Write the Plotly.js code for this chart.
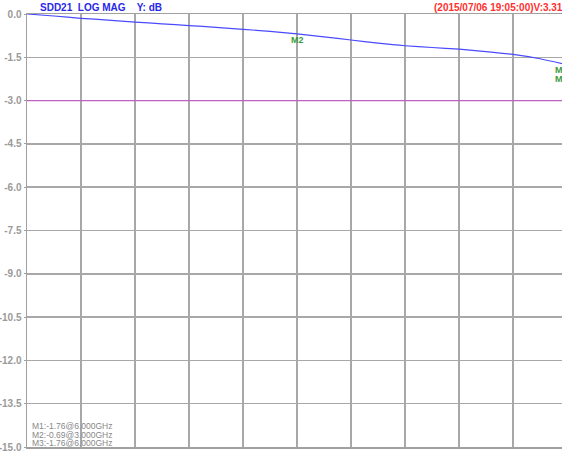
<!DOCTYPE html>
<html>
<head>
<meta charset="utf-8">
<script src="https://cdn.plot.ly/plotly-3.0.1.min.js"></script>
<style>
html,body{margin:0;padding:0;overflow:hidden;background:#fff;}
#chart{width:600px;height:455px;}
</style>
</head>
<body>
<div id="chart"></div>
<script>
// Frequency (GHz) and SDD21 (dB)
const freqGHz = [0, 0.3, 0.6, 0.9, 1.2, 1.5, 1.8, 2.1, 2.4, 2.7, 3.0, 3.3, 3.6, 3.9, 4.2, 4.5, 4.8, 5.1, 5.4, 5.7, 6.0];
const sdd21dB = [0, -0.07, -0.15, -0.21, -0.28, -0.34, -0.40, -0.46, -0.53, -0.60, -0.69, -0.79, -0.90, -1.01, -1.10, -1.16, -1.22, -1.30, -1.40, -1.55, -1.76];
const limitDB = -3.0;
const yTicks = [0, -1.5, -3.0, -4.5, -6.0, -7.5, -9.0, -10.5, -12.0, -13.5, -15.0];
const markerNames = ['M1', 'M2', 'M3'];
const markerFreq = [6.0, 3.0, 6.0];
const markerVal = [-1.76, -0.69, -1.76];
const headerLeft = 'SDD21\u00A0\u00A0LOG MAG\u00A0\u00A0\u00A0\u00A0Y: dB';
const headerRight = '(2015/07/06 19:05:00)V:3.31';

const markerShiftY = [2, 1, -7];
const markerShiftX = [-6, 0, -6];
const annotations = [];
markerNames.forEach((n, i) => {
  annotations.push({
    x: markerFreq[i], y: markerVal[i], xref: 'x', yref: 'y',
    text: '<b>' + n + '</b>', showarrow: false, xanchor: 'center', yanchor: 'top',
    yshift: markerShiftY[i], xshift: markerShiftX[i],
    font: {family: 'Arial, Liberation Sans, sans-serif', size: 9, color: '#3c9a3c'}
  });
});
annotations.push({
  x: (38 - 27) / 540, y: 1 + (14 - 8) / 433, xref: 'paper', yref: 'paper',
  text: '<b>' + headerLeft + '</b>', showarrow: false, xanchor: 'left', yanchor: 'middle',
  font: {family: 'Arial, Liberation Sans, sans-serif', size: 10, color: '#2828e8'}
});
annotations.push({
  x: (432 - 27) / 540, y: 1 + (14 - 8) / 433, xref: 'paper', yref: 'paper',
  text: '<b>' + headerRight + '</b>', showarrow: false, xanchor: 'left', yanchor: 'middle',
  font: {family: 'Arial, Liberation Sans, sans-serif', size: 10, color: '#ff3030'}
});
const footY = [426, 434.5, 443];
markerNames.forEach((n, i) => {
  annotations.push({
    x: (30 - 27) / 540, y: (447 - footY[i]) / 433, xref: 'paper', yref: 'paper',
    text: n + ':' + markerVal[i].toFixed(2) + '@' + markerFreq[i].toFixed(3) + 'GHz',
    showarrow: false, xanchor: 'left', yanchor: 'middle',
    font: {family: 'Arial, Liberation Sans, sans-serif', size: 8.5, color: '#888888'}
  });
});

const traces = [
  {
    x: [freqGHz[0], freqGHz[freqGHz.length - 1]], y: [limitDB, limitDB],
    mode: 'lines', line: {color: '#c060c0', width: 1.2}, hoverinfo: 'skip'
  },
  {
    x: freqGHz, y: sdd21dB, mode: 'lines',
    line: {color: '#4a4aff', width: 1.2, shape: 'spline', smoothing: 0.6}
  }
];

const layout = {
  width: 600, height: 455,
  margin: {l: 27, r: 33, t: 14, b: 8},
  paper_bgcolor: '#ffffff', plot_bgcolor: '#ffffff',
  showlegend: false,
  xaxis: {
    range: [0, 6], dtick: 0.6, tick0: 0, showticklabels: false,
    showgrid: true, gridcolor: '#a8a8a8', gridwidth: 1.5,
    zeroline: false, showline: true, mirror: true, linecolor: '#a0a0a0', linewidth: 1.5,
    ticks: ''
  },
  yaxis: {
    range: [-15, 0], tickvals: yTicks, ticktext: yTicks.map(v => v.toFixed(1)),
    showgrid: true, gridcolor: '#a8a8a8', gridwidth: 1.5,
    zeroline: false, showline: true, mirror: false, linecolor: '#a0a0a0', linewidth: 1.5,
    ticks: 'outside', ticklen: 2, tickcolor: '#a0a0a0',
    tickfont: {family: 'Arial, Liberation Sans, sans-serif', size: 10, color: '#9a9a9a', weight: 'bold'}
  },
  annotations: annotations
};

Plotly.newPlot('chart', traces, layout, {displayModeBar: false, staticPlot: true});
</script>
</body>
</html>
